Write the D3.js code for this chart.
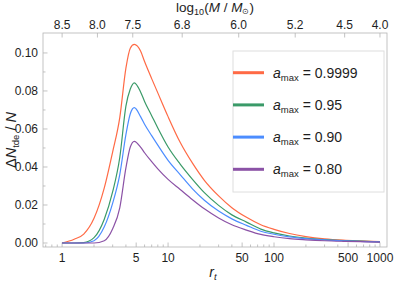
<!DOCTYPE html>
<html>
<head>
<meta charset="utf-8">
<script src="https://cdn.jsdelivr.net/npm/d3@7"></script>
<style>
  body { margin: 0; background: #fff; }
  svg { display: block; }
</style>
</head>
<body>
<svg width="395" height="283"></svg>
<script>
// data
const rt = [1, 1.3, 1.6, 2, 2.5, 3, 3.5, 4, 4.4, 4.8, 5.5, 6, 7, 8, 10, 13, 17, 22, 30, 40, 55, 75, 100, 140, 200, 300, 450, 650, 1000];
const a9999 = [0, 0.002, 0.0047, 0.013, 0.029, 0.048, 0.066, 0.092, 0.1025, 0.1045, 0.101, 0.0955, 0.0865, 0.079, 0.0665, 0.053, 0.042, 0.033, 0.0248, 0.0186, 0.0135, 0.0096, 0.0072, 0.005, 0.0034, 0.0022, 0.0015, 0.0011, 0.0007];
const a95 = [0, 0, 0.0002, 0.0028, 0.0125, 0.027, 0.045, 0.072, 0.081, 0.0843, 0.0795, 0.0745, 0.067, 0.0605, 0.0505, 0.0415, 0.0335, 0.0265, 0.0198, 0.0148, 0.011, 0.0073, 0.0053, 0.0037, 0.0026, 0.0018, 0.0013, 0.001, 0.0006];
const a90 = [0, 0, 0, 0.0012, 0.0085, 0.021, 0.036, 0.057, 0.068, 0.0712, 0.0665, 0.0625, 0.0565, 0.0515, 0.0435, 0.036, 0.0285, 0.0225, 0.0168, 0.0127, 0.0093, 0.0062, 0.0046, 0.0032, 0.0023, 0.0016, 0.0012, 0.0009, 0.0006];
const a80 = [0, 0, 0, 0, 0.0012, 0.0075, 0.0185, 0.0395, 0.0505, 0.0535, 0.0505, 0.0475, 0.0428, 0.039, 0.0335, 0.0282, 0.0228, 0.018, 0.0132, 0.0096, 0.0068, 0.0045, 0.0033, 0.0023, 0.0017, 0.0012, 0.0009, 0.0007, 0.0005];

const seriesNames = ['0.9999', '0.95', '0.90', '0.80'];
const seriesValues = [a9999, a95, a90, a80];
const colors = ['#ff6a45', '#3a9a68', '#4c8dff', '#8b52a6'];

const bottomTicks = [1, 5, 10, 50, 100, 500, 1000];
const topTicks = ['8.5', '8.0', '7.5', '6.8', '6.0', '5.2', '4.5', '4.0'];
const yTicks = [0, 0.02, 0.04, 0.06, 0.08, 0.10];

// no serif face in the sandbox, so a narrow sans keeps the widths close
const svg = d3.select('svg')
  .attr('font-family', '"Liberation Sans", Arimo, Arial, sans-serif');

// frame
const plotL = 43, plotR = 387, plotT = 33, plotB = 247;
const x = d3.scaleLog().domain([0.66, 1165]).range([plotL, plotR]);
const y = d3.scaleLinear().domain([-0.0021, 0.1105]).range([plotB, plotT]);
const frameColor = '#b4b4b4';
const textColor = '#1e1e1e';

// log10(M) on top maps onto r_t
const mToR = m => Math.pow(10, (8.5 - m) / 1.5);

const g = svg.append('g');

// minor ticks on bottom
const minor = [];
[0.1, 1, 10, 100].forEach(d => {
  for (let k = 2; k <= 9; k++) {
    const v = d * k;
    if (v >= 0.66 && v <= 1165 && bottomTicks.indexOf(v) < 0) minor.push(v);
  }
});
g.selectAll('.minx').data(minor).join('line')
  .attr('x1', d => x(d)).attr('x2', d => x(d))
  .attr('y1', plotB).attr('y2', plotB - 2.5)
  .attr('stroke', frameColor).attr('stroke-width', 0.8);

g.selectAll('.majx').data(bottomTicks).join('line')
  .attr('x1', d => x(d)).attr('x2', d => x(d))
  .attr('y1', plotB).attr('y2', plotB - 4.5)
  .attr('stroke', frameColor).attr('stroke-width', 0.8);

g.selectAll('.labx').data(bottomTicks).join('text')
  .attr('x', d => x(d)).attr('y', 262)
  .attr('text-anchor', 'middle').attr('font-size', 12)
  .attr('fill', textColor)
  .text(d => d);

// top axis
g.selectAll('.majt').data(topTicks).join('line')
  .attr('x1', d => x(mToR(+d))).attr('x2', d => x(mToR(+d)))
  .attr('y1', plotT).attr('y2', plotT + 4.5)
  .attr('stroke', frameColor).attr('stroke-width', 0.8);

g.selectAll('.labt').data(topTicks).join('text')
  .attr('x', d => x(mToR(+d))).attr('y', 29)
  .attr('text-anchor', 'middle').attr('font-size', 12)
  .attr('fill', textColor)
  .text(d => d);

// left axis
const yMinor = d3.range(0.01, 0.11, 0.02);
g.selectAll('.miny').data(yMinor).join('line')
  .attr('x1', plotL).attr('x2', plotL + 2.5)
  .attr('y1', d => y(d)).attr('y2', d => y(d))
  .attr('stroke', frameColor).attr('stroke-width', 0.8);
g.selectAll('.majy').data(yTicks).join('line')
  .attr('x1', plotL).attr('x2', plotL + 4.5)
  .attr('y1', d => y(d)).attr('y2', d => y(d))
  .attr('stroke', frameColor).attr('stroke-width', 0.8);
g.selectAll('.laby').data(yTicks).join('text')
  .attr('x', 38).attr('y', d => y(d) + 4.3)
  .attr('text-anchor', 'end').attr('font-size', 12)
  .attr('fill', textColor)
  .text(d => d3.format('.2f')(d));

// frame box
g.append('rect')
  .attr('x', plotL).attr('y', plotT)
  .attr('width', plotR - plotL).attr('height', plotB - plotT)
  .attr('fill', 'none').attr('stroke', frameColor).attr('stroke-width', 0.8);

// curves
const line = d3.line()
  .x((d, i) => x(rt[i]))
  .y(d => y(d))
  .curve(d3.curveMonotoneX);

seriesValues.forEach((vals, i) => {
  svg.append('path')
    .attr('d', line(vals))
    .attr('fill', 'none')
    .attr('stroke', colors[i])
    .attr('stroke-width', 1.2);
});

// legend
const lg = svg.append('g');
lg.append('rect')
  .attr('x', 233).attr('y', 51).attr('width', 151).attr('height', 141)
  .attr('fill', '#fff').attr('stroke', '#dedede').attr('stroke-width', 1);

seriesNames.forEach((name, i) => {
  const ly = 72.7 + i * 32.2;
  lg.append('line')
    .attr('x1', 233).attr('x2', 264)
    .attr('y1', ly).attr('y2', ly)
    .attr('stroke', colors[i]).attr('stroke-width', 3);
  const t = lg.append('text')
    .attr('x', 273).attr('y', ly + 4.8)
    .attr('font-size', 14).attr('fill', textColor);
  t.append('tspan').attr('font-style', 'italic').text('a');
  t.append('tspan').attr('font-size', 9.5).attr('dy', 3).text('max');
  t.append('tspan').attr('dy', -3).text(' = ' + name);
});

// axis titles
const tt = svg.append('text')
  .attr('x', 215).attr('y', 12)
  .attr('text-anchor', 'middle').attr('font-size', 13.5)
  .attr('fill', textColor);
tt.append('tspan').text('log');
tt.append('tspan').attr('font-size', 9).attr('dy', 2.5).text('10');
tt.append('tspan').attr('dy', -2.5).text('(');
tt.append('tspan').attr('font-style', 'italic').text('M');
tt.append('tspan').text(' / ');
tt.append('tspan').attr('font-style', 'italic').text('M');
tt.append('tspan').attr('font-size', 8).attr('dy', 2).text('\u2299');
tt.append('tspan').attr('dy', -2).text(')');

const bt = svg.append('text')
  .attr('x', 213).attr('y', 277)
  .attr('text-anchor', 'middle').attr('font-size', 14)
  .attr('fill', textColor);
bt.append('tspan').attr('font-style', 'italic').text('r');
bt.append('tspan').attr('font-style', 'italic').attr('font-size', 9.5).attr('dy', 3).text('t');

const yt = svg.append('text')
  .attr('transform', 'translate(16,140) rotate(-90)')
  .attr('text-anchor', 'middle').attr('font-size', 14.5)
  .attr('fill', textColor);
yt.append('tspan').text('\u0394');
yt.append('tspan').attr('font-style', 'italic').text('N');
yt.append('tspan').attr('font-size', 9.5).attr('dy', 3).text('tde');
yt.append('tspan').attr('dy', -3).text(' / ');
yt.append('tspan').attr('font-style', 'italic').text('N');
</script>
</body>
</html>
